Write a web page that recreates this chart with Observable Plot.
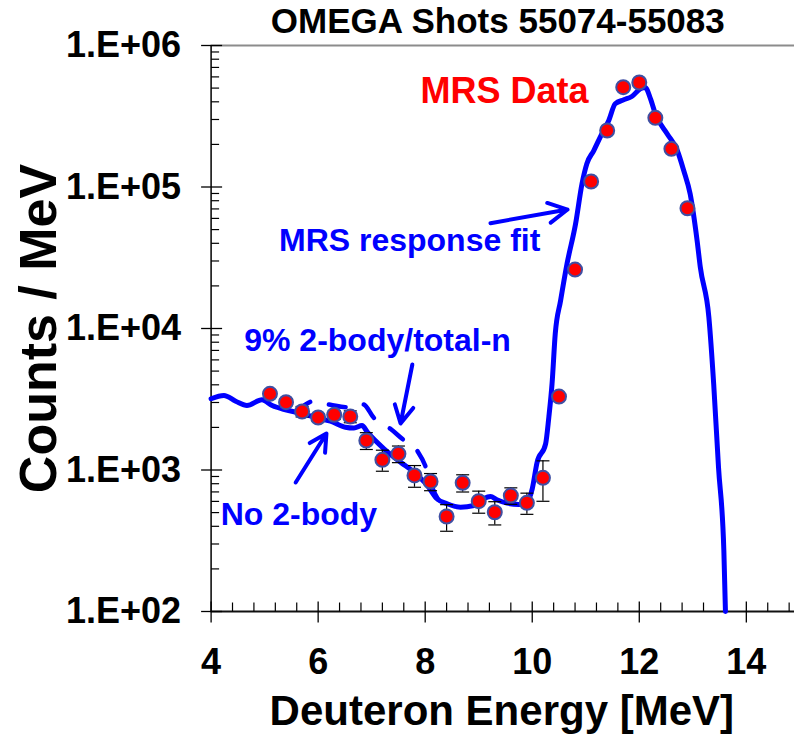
<!DOCTYPE html>
<html>
<head>
<meta charset="utf-8">
<script src="https://cdn.jsdelivr.net/npm/d3@7"></script>
<script src="https://cdn.jsdelivr.net/npm/@observablehq/plot@0.6"></script>
<style>
  body { margin: 0; background: #fff; }
  #chart svg { display: block; }
</style>
</head>
<body>
<div id="chart"></div>
<script>
// ---- Data ----
const titleText = "OMEGA Shots 55074-55083";
const xLabel = "Deuteron Energy [MeV]";
const yLabel = "Counts / MeV";

const xDomain = [4, 14.9];
const yDomain = [100, 1e6];
const xTicks = [4, 6, 8, 10, 12, 14];
const xTickLabels = ["4", "6", "8", "10", "12", "14"];
const yTicks = [1e2, 1e3, 1e4, 1e5, 1e6];
const yTickLabels = ["1.E+02", "1.E+03", "1.E+04", "1.E+05", "1.E+06"];

// MRS data points
const dataE = [5.1, 5.4, 5.7, 6.0, 6.3, 6.6, 6.9, 7.2, 7.5, 7.8, 8.1, 8.4, 8.7, 9.0, 9.3, 9.6, 9.9, 10.2, 10.5, 10.8, 11.1, 11.4, 11.7, 12.0, 12.3, 12.6, 12.9];
const dataCounts = [3456, 3015, 2591, 2350, 2455, 2388, 1616, 1180, 1302, 915, 829, 469, 812, 602, 503, 660, 586, 881, 3305, 26100, 109400, 250700, 507400, 547700, 308300, 186200, 70800];
const dataErr = [200, 180, 220, 150, 180, 230, 220, 200, 175, 160, 115, 100, 113, 107, 94, 88, 100, 280, 150, 800, 2500, 5000, 8000, 8000, 6000, 4000, 2000];

// MRS response fit (no 2-body)
const fitE = [4.00, 4.24, 4.46, 4.67, 4.95, 5.14, 5.39, 5.64, 5.89, 6.04, 6.23, 6.51, 6.67, 6.82, 6.92, 7.23, 7.54, 7.79, 8.04, 8.22, 8.41, 8.66, 8.91, 9.09, 9.22, 9.34, 9.53, 9.75, 9.90, 10.00, 10.09, 10.25, 10.31, 10.37, 10.43, 10.53, 10.65, 10.81, 10.93, 11.02, 11.15, 11.30, 11.43, 11.55, 11.71, 11.86, 12.02, 12.11, 12.21, 12.30, 12.52, 12.71, 12.83, 12.95, 13.08, 13.14, 13.30, 13.39, 13.48, 13.58, 13.61];
const fitCounts = [3186, 3362, 3063, 2856, 3134, 2856, 2664, 2537, 2388, 2300, 2212, 2007, 1981, 2063, 1850, 1412, 1135, 965, 777, 626, 577, 546, 561, 626, 649, 616, 583, 571, 592, 736, 1130, 1531, 2361, 4067, 9173, 15770, 28660, 54950, 105300, 145900, 181100, 237700, 295100, 387300, 413300, 436100, 494300, 504900, 420100, 329000, 237700, 181100, 130800, 89540, 41880, 27120, 12020, 4067, 1047, 270, 100];

// 9% 2-body/total-n fit (dashed)
const twoBodyE = [5.60, 5.74, 5.89, 6.05, 6.23, 6.51, 6.68, 6.85, 7.04, 7.35, 7.57, 7.86, 8.00, 8.14, 8.25];
const twoBodyCounts = [2560, 2856, 3048, 2960, 2889, 2778, 2951, 2903, 2339, 1955, 1662, 1351, 1076, 740, 610];

// Annotations (anchored in data units)
const noteLabels = ["MRS Data", "MRS response fit", "9% 2-body/total-n", "No 2-body"];
const noteE = [9.48, 7.71, 7.11, 5.64];
const noteCounts = [473000, 41500, 8220, 485];

const arrowFromE = [9.22, 7.76, 5.58];
const arrowFromCounts = [55500, 5567, 816];
const arrowToE = [10.66, 7.54, 6.155];
const arrowToCounts = [69300, 2131, 1811];

// ---- Build tables ----
const points = dataE.map((E, i) => ({E, c: dataCounts[i], s: dataErr[i]}));
const fit = fitE.map((E, i) => ({E, c: fitCounts[i]}));
const twoBody = twoBodyE.map((E, i) => ({E, c: twoBodyCounts[i]}));
const notes = noteLabels.map((t, i) => ({t, E: noteE[i], c: noteCounts[i]}));
const arrows = arrowFromE.map((E, i) => ({x1: E, y1: arrowFromCounts[i], x2: arrowToE[i], y2: arrowToCounts[i]}));

const yMinor = [];
for (let d = 100; d < 1e6; d *= 10) for (let k = 2; k <= 9; k++) yMinor.push(k * d);
const xMinor = d3.range(4, 14.9, 0.4).map(v => +v.toFixed(1)).filter(v => Math.abs(v / 2 - Math.round(v / 2)) > 1e-6);

const seg = (x0, y0, x1, y1) => ({draw(ctx) { ctx.moveTo(x0, y0); ctx.lineTo(x1, y1); }});

const BLUE = "#0000ff";
const FONT = "'Liberation Sans', Arial, Helvetica, sans-serif";

const chart = Plot.plot({
  width: 794,
  height: 738,
  marginLeft: 210.6,
  marginRight: 0,
  marginTop: 45,
  marginBottom: 127,
  x: {domain: xDomain, axis: null},
  y: {type: "log", domain: yDomain, axis: null},
  style: {fontFamily: FONT, background: "#fff", color: "#000"},
  marks: [
    // frame lines
    Plot.ruleY([yDomain[1]], {stroke: "#8c8c8c", strokeWidth: 2}),
    Plot.ruleX([xDomain[0]], {stroke: "#000", strokeWidth: 1.5}),
    Plot.ruleY([yDomain[0]], {stroke: "#111", strokeWidth: 2}),
    // y ticks
    Plot.dot(yTicks, {y: d => d, frameAnchor: "left", r: 5, symbol: seg(-10, 0, 11, 0), fill: "none", stroke: "#000", strokeWidth: 1.3}),
    Plot.dot(yMinor, {y: d => d, frameAnchor: "left", r: 5, symbol: seg(0, 0, 8, 0), fill: "none", stroke: "#000", strokeWidth: 1.2}),
    // x ticks
    Plot.dot(xTicks, {x: d => d, frameAnchor: "bottom", r: 5, symbol: seg(0, -10, 0, 11), fill: "none", stroke: "#000", strokeWidth: 1.3}),
    Plot.dot(xMinor, {x: d => d, frameAnchor: "bottom", r: 5, symbol: seg(0, -9, 0, 0), fill: "none", stroke: "#000", strokeWidth: 1.2}),
    // tick labels
    Plot.text(yTicks, {y: d => d, text: (d, i) => yTickLabels[i], frameAnchor: "left", textAnchor: "end", dx: -30, fontSize: 36, fontWeight: "bold", fill: "#000"}),
    Plot.text(xTicks, {x: d => d, text: (d, i) => xTickLabels[i], frameAnchor: "bottom", lineAnchor: "top", dy: 37, fontSize: 36, fontWeight: "bold", fill: "#000"}),
    // titles
    Plot.text([titleText], {text: d => d, frameAnchor: "top", textAnchor: "middle", lineAnchor: "top", dy: -37, dx: -5, fontSize: 35, fontWeight: "bold", fill: "#000"}),
    Plot.text([yLabel], {text: d => d, frameAnchor: "left", textAnchor: "middle", rotate: -90, dx: -172, fontSize: 52, fontWeight: "bold", fill: "#000"}),
    Plot.text([xLabel], {text: d => d, frameAnchor: "bottom", textAnchor: "middle", lineAnchor: "top", dy: 84, dx: -1, fontSize: 42, fontWeight: "bold", fill: "#000"}),
    // fits
    Plot.line(fit, {x: "E", y: "c", stroke: BLUE, strokeWidth: 5, curve: "monotone-x", strokeLinejoin: "round"}),
    Plot.line(twoBody, {x: "E", y: "c", stroke: BLUE, strokeWidth: 4.5, curve: "monotone-x", strokeDasharray: "17,19"}),
    // error bars
    Plot.ruleX(points, {x: "E", y1: d => d.c - d.s, y2: d => d.c + d.s, stroke: "#000", strokeWidth: 1.2}),
    Plot.dot(points, {x: "E", y: d => d.c - d.s, r: 5, symbol: seg(-6.5, 0, 6.5, 0), fill: "none", stroke: "#000", strokeWidth: 1.2}),
    Plot.dot(points, {x: "E", y: d => d.c + d.s, r: 5, symbol: seg(-6.5, 0, 6.5, 0), fill: "none", stroke: "#000", strokeWidth: 1.2}),
    // data
    Plot.dot(points, {x: "E", y: "c", r: 7, fill: "#ff0000", stroke: "#3f4fa3", strokeWidth: 2}),
    // annotations
    Plot.text(notes, {x: "E", y: "c", text: "t", fontWeight: "bold",
      fontSize: (d, i) => i === 0 ? 36 : 32,
      fill: (d, i) => i === 0 ? "#ff0000" : BLUE}),
    Plot.arrow(arrows, {x1: "x1", y1: "y1", x2: "x2", y2: "y2", stroke: BLUE, strokeWidth: 4, headLength: 8, headAngle: 56})
  ]
});

document.getElementById("chart").append(chart);
</script>
</body>
</html>
